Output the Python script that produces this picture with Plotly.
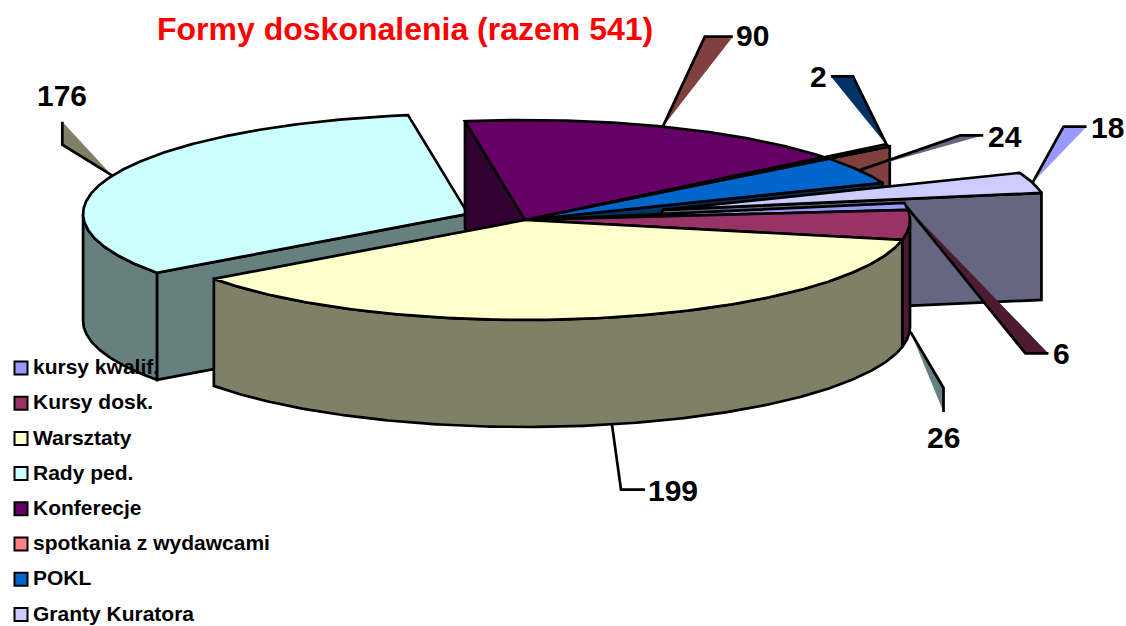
import math
import plotly.graph_objects as go

TITLE = "Formy doskonalenia (razem 541)"
categories = ["kursy kwalif.", "Kursy dosk.", "Warsztaty", "Rady ped.", "Konferecje",
              "spotkania z wydawcami", "POKL", "Granty Kuratora"]
values = [6, 26, 199, 176, 90, 2, 24, 18]
top_colors = ["#9999FF", "#993366", "#FFFFCC", "#CCFFFF", "#660066", "#FF8080", "#0066CC", "#CCCCFF"]
wall_colors = ["#4D4D80", "#4D1A33", "#808066", "#668080", "#330033", "#804040", "#003366", "#666680"]
explode = [0, 0, 0, 0.16, 0, 0.2, 0, 0.37]
callout_fill = ["#4D1A33", "#668080", None, "#808066", "#804040", "#003366", "#666680", "#9999FF"]

# chart frame
CX, CY, RX, RY, DEPTH = 525, 220, 385, 100, 107
START = -9.8
LINE_W = 2.7
# leader layout: elbow and end offsets relative to rim anchor, on lower rim if flagged
leader_nudge = [(0, 0), (1, 0), (5, 0), (0, 0), (0, 0), (0, 0), (0, 0), (0, 0)]
leader_elbow = [(119, 147), (33, 56), (9, 65), (-50, -31), (42, -90), (-34, -69), (101, -35), (31, -56)]
leader_end = [(142, 147), (33, 80), (33, 65), (-50, -54), (70, -90), (-56, -69), (124, -35), (54, -56)]
leader_low = [False, True, True, False, False, False, False, False]
label_offset = [(3, 0), (0, 26), (1, 1), (0, -26), (1, -1), (-2, 0), (3, 1), (2, 1)]
label_anchor = ["left", "center", "left", "center", "left", "right", "left", "left"]
LEGEND_X, LEGEND_TEXT_X, LEGEND_Y0, LEGEND_DY = 21, 33, 368, 35.2
LEGEND_TEXT_DY = 1

total = sum(values)
angles = []
a = START
for v in values:
    angles.append((a, a + v / total * 360))
    a += v / total * 360


def rim(t, ox=0.0, oy=0.0, dz=0.0):
    r = math.radians(t)
    return CX + ox + RX * math.cos(r), CY + oy + RY * math.sin(r) + dz


def offset(i):
    m = math.radians(sum(angles[i]) / 2)
    return explode[i] * RX * math.cos(m), explode[i] * RY * math.sin(m)


def arc(t0, t1, ox, oy, dz=0.0):
    n = max(2, int(abs(t1 - t0) * 2))
    return [rim(t0 + (t1 - t0) * k / n, ox, oy, dz) for k in range(n + 1)]


fig = go.Figure()


def poly(pts, fill, width=LINE_W):
    xs = [p[0] for p in pts] + [pts[0][0]]
    ys = [p[1] for p in pts] + [pts[0][1]]
    fig.add_trace(go.Scatter(x=xs, y=ys, mode="lines", fill="toself", fillcolor=fill,
                             line=dict(color="black", width=width), hoverinfo="skip", showlegend=False))


def top(i):
    ox, oy = offset(i)
    t0, t1 = angles[i]
    poly([(CX + ox, CY + oy)] + arc(t0, t1, ox, oy), top_colors[i])


def edge_wall(i, t):
    ox, oy = offset(i)
    a0 = (CX + ox, CY + oy)
    a1 = rim(t, ox, oy)
    poly([a0, a1, (a1[0], a1[1] + DEPTH), (a0[0], a0[1] + DEPTH)], wall_colors[i])


def outer_wall(i, t0, t1):
    ox, oy = offset(i)
    poly(arc(t0, t1, ox, oy) + arc(t1, t0, ox, oy, DEPTH), wall_colors[i])


K, D, W, R, F, S, P, G = range(8)
# Rady ped.
edge_wall(R, angles[W][1])
outer_wall(R, angles[W][1], 180)
top(R)
# Konferencje
edge_wall(F, angles[F][0])
top(F)
# spotkania
edge_wall(S, angles[S][1])
top(S)
# POKL
edge_wall(P, angles[P][1])
top(P)
# Granty
edge_wall(G, angles[G][1])
top(G)
# kwalif, dosk
outer_wall(D, 0, angles[D][1])
top(K)
top(D)
# Warsztaty
outer_wall(W, angles[W][0], angles[W][1])
top(W)

annotations = []
for i in range(len(values)):
    ox, oy = offset(i)
    anchor = rim(sum(angles[i]) / 2, ox, oy, DEPTH if leader_low[i] else 0)
    anchor = (anchor[0] + leader_nudge[i][0], anchor[1] + leader_nudge[i][1])
    elbow = (anchor[0] + leader_elbow[i][0], anchor[1] + leader_elbow[i][1])
    end = (anchor[0] + leader_end[i][0], anchor[1] + leader_end[i][1])
    if callout_fill[i]:
        fig.add_trace(go.Scatter(x=[anchor[0], elbow[0], end[0], anchor[0]],
                                 y=[anchor[1], elbow[1], end[1], anchor[1]],
                                 mode="lines", fill="toself", fillcolor=callout_fill[i],
                                 line=dict(width=0), hoverinfo="skip", showlegend=False))
    fig.add_trace(go.Scatter(x=[anchor[0], elbow[0], end[0]], y=[anchor[1], elbow[1], end[1]],
                             mode="lines", line=dict(color="black", width=LINE_W),
                             hoverinfo="skip", showlegend=False))
    annotations.append(dict(x=end[0] + label_offset[i][0], y=end[1] + label_offset[i][1],
                            xref="x", yref="y", text=f"<b>{values[i]}</b>", showarrow=False,
                            xanchor=label_anchor[i],
                            font=dict(family="Liberation Sans", size=30, color="black")))

annotations.append(dict(x=405, y=29, xref="x", yref="y", text=f"<b>{TITLE}</b>", showarrow=False,
                        font=dict(family="Liberation Sans", size=32, color="#FF0000")))

# legend on top of the pie, as in the reference
legend_y = [LEGEND_Y0 + k * LEGEND_DY for k in range(len(categories))]
fig.add_trace(go.Scatter(
    x=[LEGEND_X] * len(categories), y=legend_y, mode="markers",
    marker=dict(symbol="square", size=13, color=top_colors, line=dict(color="black", width=2)),
    hoverinfo="skip", showlegend=False))
fig.add_trace(go.Scatter(
    x=[LEGEND_TEXT_X] * len(categories), y=[v + LEGEND_TEXT_DY for v in legend_y],
    mode="text", text=categories, textposition="middle right",
    textfont=dict(family="Liberation Sans", size=21, color="black", weight="bold"),
    hoverinfo="skip", showlegend=False))

fig.update_layout(
    width=1126, height=626, margin=dict(l=0, r=0, t=0, b=0),
    paper_bgcolor="white", plot_bgcolor="white", showlegend=False,
    xaxis=dict(range=[0, 1126], visible=False, fixedrange=True),
    yaxis=dict(range=[626, 0], visible=False, fixedrange=True),
    annotations=annotations)
fig.write_html("out.html", config=dict(displayModeBar=False),
               post_script="document.body.style.margin='0';document.body.style.overflow='hidden';")
